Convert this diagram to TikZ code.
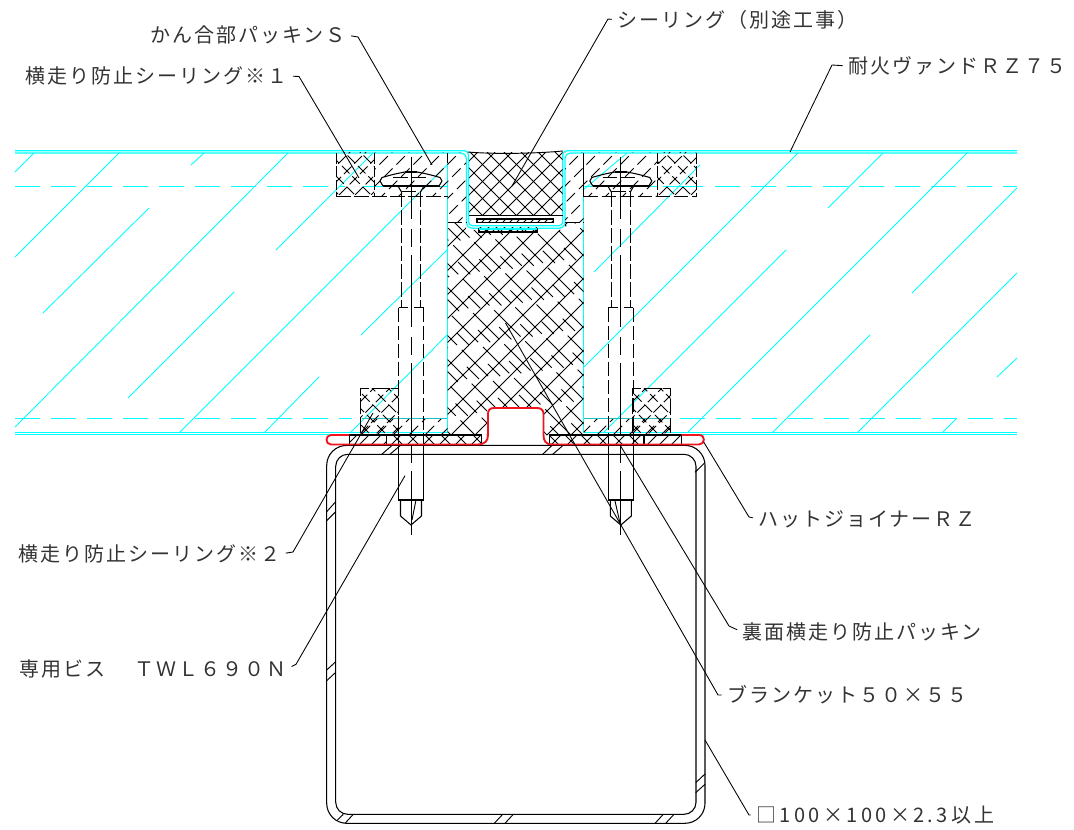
\documentclass[tikz,border=0pt]{standalone}
\usepackage{fontspec}
\newfontfamily\jp[LetterSpace=10]{Noto Sans CJK JP}
\newfontfamily\jpw[LetterSpace=17]{Noto Sans CJK JP}
\definecolor{cy}{RGB}{0,255,255}
\definecolor{teal2}{RGB}{30,190,190}
\definecolor{rd}{RGB}{240,20,30}
\newcommand\FW[1]{\char"#1\relax}
\newcommand\hF[3]{\begin{scope}\clip #1;\foreach \c in {#2}{\draw[#3] (\c-900,900) -- (\c,0);}\end{scope}}
\newcommand\hB[3]{\begin{scope}\clip #1;\foreach \c in {#2}{\draw[#3] (0-\c,0) -- (900-\c,900);}\end{scope}}
\newcommand\hBp[3]{\begin{scope}\clip #1;\foreach \c in {#2}{\pgfmathsetmacro\ph{mod(abs(\c)*7,33)}\draw[#3,dash phase=\ph pt] (0-\c,0) -- (900-\c,900);}\end{scope}}
\tikzset{
 ln/.style={line width=.8pt,black},
 thin2/.style={line width=.7pt,black},
 hatchd/.style={line width=.7pt,black,dash pattern=on 9pt off 4pt},
 hatchl/.style={line width=.7pt,black,dash pattern=on 28pt off 5pt},
 hatchx/.style={line width=.7pt,black,dash pattern=on 13pt off 20pt},
 hatchc/.style={line width=.7pt,black,dash pattern=on 8pt off 3pt},
 cyl/.style={line width=.65pt,cy},
 cyd/.style={line width=.9pt,cy,dash pattern=on 18.75pt off 8.25pt},
 dsh/.style={line width=.75pt,black,dash pattern=on 11pt off 2.5pt},
 ctr/.style={line width=.75pt,black,dash pattern=on 54pt off 7.5pt on 13.5pt off 6pt,dash phase=7.5pt},
 red1/.style={line width=1.4pt,rd,line join=round},
 leader/.style={line width=.65pt,black,shorten <=4pt},
 lab/.style={inner sep=0pt,font=\jp\fontsize{15pt}{15pt}\selectfont,text=black!80},
}
\begin{document}
\begin{tikzpicture}[x=.75pt,y=-.75pt]
\useasboundingbox (0,0) rectangle (1074,830);
\fill[white] (0,0) rectangle (1074,830);
% cyan panels
\foreach \a/\b/\cc/\d in {15/172/34/153,191/165/204/153,15/257/119/153,43/313/149/208,15/427/288/153,128/398/234/292,179/433/447/165,276/250/373/153,264/433/319/377,361/335/447/250,350/433/447/335,
 584/367/798/153,583/190/627/153,594/272/700/165,603/433/786/250,688/432/967/153,828/208/883/153,912/293/1017/188,773/432/870/335,858/432/1017/273,943/432/956/419,997/377/1017/358}
 {\draw[cyl] (\a,\b) -- (\cc,\d);}
\draw[cyd] (15,186.5) -- (345,186.5);
\draw[cyl,line width=.9pt] (363,186.5) -- (447,186.5);
\draw[cyl,line width=.9pt] (583.5,186.5) -- (657,186.5);
\draw[cyl,line width=.9pt] (663,186.5) -- (703,186.5);
\draw[cyd] (715,186.5) -- (1017,186.5);
\draw[cyd] (15,418.7) -- (352,418.7);
\draw[cyd] (680,418.7) -- (1017,418.7);
\draw[teal2,line width=1.1pt] (362,418.7) -- (447,418.7);
\draw[teal2,line width=1.1pt] (583.5,418.7) -- (670,418.7);
\draw[cyl,line width=.9pt,rounded corners=3] (15,150.8) -- (468.5,150.8) -- (468.5,225.8) -- (562.8,225.8) -- (562.8,150.8) -- (1017,150.8);
\draw[cyl,line width=.9pt,rounded corners=4] (15,153) -- (466.4,153) -- (466.4,228.2) -- (565,228.2) -- (565,153) -- (1017,153);
\draw[cyl,line width=.9pt] (15,432.4) -- (447.7,432.4) (15,434.4) -- (447.7,434.4);
\draw[cyl,line width=.9pt] (583.5,432.4) -- (1017,432.4) (583.5,434.4) -- (1017,434.4);
\draw[cyl] (447.7,163) -- (447.7,432.4) (583.5,197) -- (583.5,432.4);
\draw[thin2] (447.7,153) -- (447.7,163) (583.5,153) -- (583.5,197);
% top packing hatch
\hF{(374,153) rectangle (447.7,197)}{527,544,...,680}{hatchd}
\hF{(447.7,153) rectangle (466,223)}{527,544,...,700}{hatchd}
\hF{(565,153) rectangle (583.5,223)}{700,717,...,820}{hatchd}
\hF{(583.5,153) rectangle (657,197)}{700,717,...,860}{hatchd}
% cross packing top
\foreach \xa/\xb in {336/374,657/696}{
 \hF{(\xa,153) rectangle (\xb,197)}{470,486,...,900}{hatchc}
 \hB{(\xa,153) rectangle (\xb,197)}{-560,-544,...,-120}{hatchc}
}
\draw[thin2,dash pattern=on 8pt off 2pt] (336,153) -- (336,197) (374,153) -- (374,197) (657,153) -- (657,197) (696,153) -- (696,197);
\draw[dsh] (336,197) -- (447.7,197) (583.5,197) -- (696,197);
\draw[dsh] (447.7,223) -- (466,223) (565,223) -- (583.5,223);
% sealing block
\hF{(469,153) rectangle (562.5,215)}{630,647,...,790}{thin2}
\hB{(469,153) rectangle (562.5,215)}{-420,-403,...,-250}{thin2}
\draw[thin2] (468,152) .. controls (490,154) and (530,154) .. (563,151);
\draw[thin2] (469,215) -- (562.5,215);
\hF{(477,219) rectangle (553.3,222.3)}{690,697,...,790}{thin2}
\draw[ln] (477,219) rectangle (553.3,222.3);
\hF{(479,228) rectangle (537,232)}{700,708,...,780}{thin2}
\draw[ln] (479,228) -- (479,232) -- (537,232) -- (537,228);
\draw[cy,line width=1.2pt] (479,229) -- (537,229);
% blanket
\def\blk{(447.7,223) -- (466,223) -- (466,230) -- (565,230) -- (565,223) -- (583.5,223) -- (583.5,435) -- (544,435) -- (544,408) -- (487,408) -- (487,435) -- (447.7,435) -- cycle}
\hF{\blk}{670,694,...,1040}{thin2}
\hBp{\blk}{-400,-376,...,0}{hatchl}
\hBp{\blk}{-388,-364,...,0}{hatchx}
% lower side packing
\foreach \xa/\xb in {360.7/398.7,632.7/670.7}{
 \hF{(\xa,388.3) rectangle (\xb,433)}{730,746,...,1110}{hatchc}
 \hB{(\xa,388.3) rectangle (\xb,433)}{-320,-304,...,90}{hatchc}
 \draw[thin2,dash pattern=on 12pt off 2pt] (\xa,433) -- (\xa,388.3) -- (\xb,388.3) -- (\xb,433);
}
\hF{(362,419) rectangle (447.7,433)}{780,796,...,890}{hatchd}
\hF{(583.5,419) rectangle (670,433)}{1000,1016,...,1110}{hatchd}
% joiner band
\draw[ln] (349.3,435) -- (481.7,435) -- (481.7,444.5);
\draw[ln] (349.3,435) -- (349.3,444.5) (386.7,435) -- (386.7,444.5);
\draw[ln] (549.3,435) -- (681.7,435) -- (681.7,444.5) (549.3,435) -- (549.3,444.5) (644,435) -- (644,444.5);
\hF{(349.3,435) rectangle (386.7,444.5)}{780,792,...,840}{thin2}
\hF{(386.7,435) rectangle (481.7,444.5)}{820,836,...,930}{thin2}
\hB{(386.7,435) rectangle (481.7,444.5)}{-70,-54,...,60}{thin2}
\hF{(549.3,435) rectangle (644,444.5)}{980,996,...,1100}{thin2}
\hB{(549.3,435) rectangle (644,444.5)}{-210,-194,...,-100}{thin2}
\hF{(644,435) rectangle (681.7,444.5)}{1080,1092,...,1130}{thin2}
% tube
\draw[ln,rounded corners=15] (326.7,445.4) rectangle (705,823.3);
\draw[ln,rounded corners=9] (335.7,454.3) rectangle (696,814.3);
\foreach \a/\b/\cc/\d in {337.5/820/343.3/814.3,345/823.3/353.3/814.3,494.3/823.3/502.7/814.3,505/823.3/513.3/814.3,655/823.3/663.3/814.3,665.7/823.3/674/814.3,326.7/670/335.7/661.7,326.7/680.7/335.7/672.3,695.7/782.7/705/774,695.7/792.7/705/784.3,326.7/511.7/335.7/501.7,326.7/520.7/335.7/511.7,695/472.3/704.3/463.3,381.7/454.3/391.7/445.7,390/454.3/400/445.7,542.7/454.3/551.7/445.7,552.7/454.3/562.7/445.7}
 {\draw[thin2] (\a,\b) -- (\cc,\d);}
% screws
\foreach \cx in {411,620.8}{
\begin{scope}[xshift=\cx*.75pt]
 \draw[ln,line join=round] (-28,186) -- (-31,181) -- (-29,177.5) -- (-20,175) .. controls (-14,173.5) and (-9,172.5) .. (-6,172);
 \draw[ln,line join=round] (28,186) -- (31,181) -- (29,177.5) -- (20,175) .. controls (14,173.5) and (9,172.5) .. (6,172);
 \draw[ln] (-6,172) -- (6,172);
 \draw[ln] (-28,186) -- (29,186);
 \draw[dsh] (-18,178) -- (18,178);
 \draw[ln] (-13,186) -- (-9.5,192) (13,186) -- (9.5,192);
 \draw[dsh] (-9.5,192) -- (9.5,192);
 \draw[dsh] (-9.5,192) -- (-9.5,307.7) (9.5,192) -- (9.5,307.7);
 \draw[ln] (-12.5,307.7) -- (-3,307.7) (3,307.7) -- (12.5,307.7);
 \draw[dsh] (-12.5,307.7) -- (-12.5,433) (12.5,307.7) -- (12.5,433);
 \draw[ln] (-12.5,433) -- (-12.5,500) -- (12.5,500) -- (12.5,433);
 \draw[ln] (-10.5,500) -- (-10.5,516) -- (0,525) -- (10.5,516) -- (10.5,500);
 \draw[ctr] (0,157) -- (0,535);
\end{scope}}
\draw[thin2] (416,500) -- (412,520) (615,501) -- (620,523);
% red joiner
\draw[red1] (349.3,435) -- (331,435) .. controls (325,435) and (325,444.5) .. (331,444.5) -- (477,444.5) .. controls (485,444.5) and (488,441) .. (488,435) -- (488,414) .. controls (488,410) and (490,408) .. (494,408) -- (537,408) .. controls (541,408) and (543.5,410) .. (543.5,414) -- (543.5,435) .. controls (543.5,441) and (546,444.5) .. (552,444.5) -- (699,444.5) .. controls (705,444.5) and (706,435) .. (699,435) -- (681.7,435);
% labels
\node[lab,anchor=west] (lS) at (150,35) {かん合部パッキン\FW{FF33}};
\node[lab,anchor=west] (lY1) at (25,76) {横走り防止シーリング※\FW{FF11}};
\node[lab,anchor=west] (lSe) at (617,20) {シーリング\FW{FF08}別途工事\FW{FF09}};
\node[lab,anchor=west] (lTa) at (848,66) {耐火ヴァンド\FW{FF32}\FW{FF3A}\FW{FF17}\FW{FF15}};
\node[lab,anchor=west] (lH) at (758,519) {ハットジョイナー\FW{FF32}\FW{FF3A}};
\node[lab,anchor=west] (lY2) at (18,554) {横走り防止シーリング※\FW{FF12}};
\node[lab,anchor=west] (lUr) at (742,632) {裏面横走り防止パッキン};
\node[lab,anchor=west] (lV) at (19,669) {専用ビス\hspace{22pt}\FW{FF34}\FW{FF37}\FW{FF2C}\FW{FF16}\FW{FF19}\FW{FF10}\FW{FF2E}};
\node[lab,anchor=west] (lB) at (727,695) {ブランケット\FW{FF15}\FW{FF10}×\FW{FF15}\FW{FF15}};
\node[lab,anchor=west,font=\jpw\fontsize{15pt}{15pt}\selectfont] (lK) at (756,815) {□100×100×2.3以上};
% leaders
\coordinate (eS) at (432,165); \coordinate (eY1) at (359,178); \coordinate (eSe) at (512,186);
\coordinate (eTa) at (790,152); \coordinate (eH) at (703.7,442); \coordinate (eY2) at (373,413);
\coordinate (eUr) at (620,445); \coordinate (eV) at (405,475.7); \coordinate (eB) at (505.5,323);
\coordinate (eK) at (705,740);
\draw[leader] (lS.east) -- (358,37) -- (eS);
\draw[leader] (lY1.east) -- (299,76.5) -- (eY1);
\draw[leader] (lSe.west) -- (608,19) -- (eSe);
\draw[leader] (lTa.west) -- (832,65) -- (eTa);
\draw[leader] (lH.west) -- (749,517) -- (eH);
\draw[leader] (lY2.east) -- (293,552) -- (eY2);
\draw[leader] (lUr.west) -- (729,626) -- (eUr);
\draw[leader] (lV.east) -- (296,664.3) -- (eV);
\draw[leader] (lB.west) -- (718,695) -- (eB);
\draw[leader] (lK.west) -- (749,815) -- (eK);
\end{tikzpicture}
\end{document}
